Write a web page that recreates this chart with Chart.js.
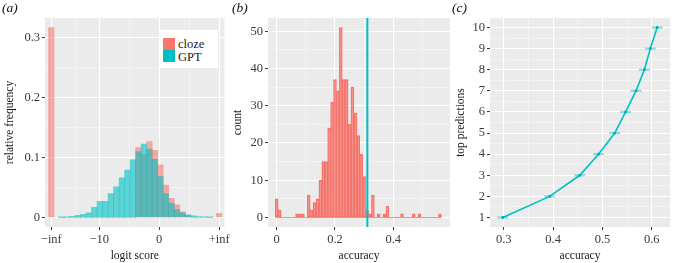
<!DOCTYPE html>
<html>
<head>
<meta charset="utf-8">
<script src="https://cdn.jsdelivr.net/npm/chart.js@4.4.0/dist/chart.umd.min.js"></script>
<style>
html,body{margin:0;padding:0;background:#ffffff;}
#wrap{position:relative;width:674px;height:263px;overflow:hidden;font-family:"Liberation Serif","Times New Roman",serif;}
canvas{position:absolute;top:0;}
.tag{position:absolute;top:0;font-style:italic;font-size:13.5px;line-height:16px;color:#111;}
#legend{position:absolute;left:159px;top:30px;width:59px;height:38px;background:#ffffff;}
.key{position:absolute;left:4px;width:12px;height:12px;}
.ltxt{position:absolute;left:19px;font-size:12.5px;line-height:12px;color:#1a1a1a;}
</style>
</head>
<body>
<div id="wrap">
  <canvas id="ca" width="232" height="263" style="left:0px"></canvas>
  <canvas id="cb" width="226" height="263" style="left:228px"></canvas>
  <canvas id="cc" width="220" height="263" style="left:454px"></canvas>
  <div class="tag" style="left:2px">(a)</div>
  <div class="tag" style="left:232px">(b)</div>
  <div class="tag" style="left:452px">(c)</div>
  <div id="legend">
    <div class="key" style="top:8px;background:#F8766D"></div>
    <div class="ltxt" style="top:8px">cloze</div>
    <div class="key" style="top:20px;background:#00BFC4"></div>
    <div class="ltxt" style="top:21px">GPT</div>
  </div>
</div>
<script>
// ===== Data =====
// (a) relative frequency of logit scores, histogram bin centres
const logitBinCenters = [-16.35,-15.43,-14.51,-13.59,-12.67,-11.75,-10.83,-9.91,-8.99,-8.07,-7.15,-6.23,-5.31,-4.39,-3.47,-2.55,-1.63,-0.71,0.21,1.13,2.05,2.97,3.89,4.81,5.73,6.65,7.57,8.49];
const gptFreq   = [0.0005,0.001,0.002,0.0035,0.005,0.0075,0.017,0.027,0.027,0.040,0.051,0.066,0.079,0.096,0.110,0.1225,0.114,0.097,0.068,0.040,0.024,0.013,0.0075,0.0045,0.0025,0.0015,0.0008,0.0003];
const clozeFreq = [0,0,0,0,0,0,0,0,0,0,0,0,0,0,0.1165,0.105,0.1265,0.112,0.088,0.054,0.032,0.021,0.0095,0.003,0,0,0,0];
const negInfPos = -18, posInfPos = 10;
const clozeNegInf = 0.317, clozePosInf = 0.007;
const logitMajor = [negInfPos, -10, 0, posInfPos];
const logitLabels = ['\u2212inf', '\u221210', '0', '+inf'];
const logitMinor = [-14, -5, 5];
const freqMajor = [0, 0.1, 0.2, 0.3];
const freqLabels = ['0', '0.1', '0.2', '0.3'];
const freqMinor = [0.05, 0.15, 0.25];

// (b) accuracy histogram (count), bin centres of width 0.01
const accBins   = [0,0.01,0.07,0.08,0.09,0.11,0.12,0.13,0.14,0.15,0.16,0.17,0.18,0.19,0.20,0.21,0.22,0.23,0.24,0.25,0.26,0.27,0.28,0.29,0.30,0.31,0.32,0.33,0.35,0.37,0.38,0.43,0.47,0.49,0.56];
const accCounts = [5,2,1,1,1,6,2,4,5,10,15,15,24,31,37,34,51,37,37,25,35,28,22,17,11,2,1,6,1,1,3,1,1,1,1];
const accBinWidth = 0.01;
const gptAccuracy = 0.311;
const accMajor = [0, 0.2, 0.4];
const accLabels = ['0', '0.2', '0.4'];
const accMinor = [0.1, 0.3, 0.5];
const countMajor = [0, 10, 20, 30, 40, 50];
const countLabels = ['0', '10', '20', '30', '40', '50'];
const countMinor = [5, 15, 25, 35, 45];

// (c) accuracy vs number of top predictions
const topN = [1,2,3,4,5,6,7,8,9,10];
const topAcc = [0.298,0.393,0.454,0.492,0.525,0.547,0.568,0.585,0.597,0.611];
const topAccErr = [0.011,0.011,0.011,0.011,0.011,0.011,0.011,0.011,0.011,0.011];
const topAccMajor = [0.3, 0.4, 0.5, 0.6];
const topAccLabels = ['0.3', '0.4', '0.5', '0.6'];
const topAccMinor = [0.35, 0.45, 0.55];
const topNMajor = [1,2,3,4,5,6,7,8,9,10];
const topNLabels = ['1','2','3','4','5','6','7','8','9','10'];
const topNMinor = [1.5,2.5,3.5,4.5,5.5,6.5,7.5,8.5,9.5];

// ===== Helpers =====
const FONT = "'Liberation Serif','Times New Roman',serif";
const RED = '#F8766D', TEAL = '#00BFC4';

function makeTicks(major, minor) {
  return axis => {
    const t = major.map(v => ({value: v, isMajor: true}))
      .concat(minor.map(v => ({value: v, isMajor: false})));
    t.sort((a, b) => a.value - b.value);
    axis.ticks = t;
  };
}
function labelFn(major, labels) {
  return value => {
    const i = major.findIndex(m => Math.abs(m - value) < 1e-9);
    return i >= 0 ? labels[i] : '';
  };
}
const isMaj = c => !!(c.tick && c.tick.isMajor);
function axis(o) {
  return {
    type: 'linear', position: o.position, min: o.min, max: o.max, offset: false,
    afterBuildTicks: makeTicks(o.major, o.minor),
    afterFit: o.afterFit,
    border: {display: false},
    grid: {
      offset: false,
      color: c => isMaj(c) ? '#FFFFFF' : 'rgba(255,255,255,0.6)',
      lineWidth: c => isMaj(c) ? 1.1 : 0.7,
      tickColor: c => isMaj(c) ? '#333333' : 'rgba(0,0,0,0)',
      tickWidth: 1, tickLength: 3, drawTicks: true
    },
    ticks: {
      autoSkip: false, maxRotation: 0, minRotation: 0, padding: o.tickPad,
      color: '#3a3a3a', font: {family: FONT, size: 12.5},
      callback: labelFn(o.major, o.labels)
    },
    title: {display: true, text: o.title, color: '#1a1a1a', font: {family: FONT, size: 11.5}, padding: o.titlePad}
  };
}
const fitY = w => a => { a.width = w; a.paddingTop = 0; a.paddingBottom = 0; };
const fitX = h => a => { a.height = h; a.paddingLeft = 0; a.paddingRight = 0; };

const panelBg = {
  id: 'panelBg',
  beforeDraw(chart) {
    const {ctx, chartArea: a} = chart;
    ctx.save();
    ctx.fillStyle = '#EBEBEB';
    ctx.fillRect(a.left, a.top, a.right - a.left, a.bottom - a.top);
    ctx.restore();
  }
};
const base = {
  responsive: false, animation: false, devicePixelRatio: 1,
  plugins: {legend: {display: false}, tooltip: {enabled: false}}
};

// ===== Panel (a) =====
const gptPts = logitBinCenters.map((x, i) => ({x, y: gptFreq[i]}));
const clozePts = [{x: negInfPos, y: clozeNegInf}]
  .concat(logitBinCenters.map((x, i) => ({x, y: clozeFreq[i]})))
  .concat([{x: posInfPos, y: clozePosInf}]);

new Chart(document.getElementById('ca'), {
  type: 'bar',
  data: {datasets: [
    {label: 'GPT', data: gptPts, backgroundColor: 'rgba(0,191,196,0.6)', borderWidth: 0, grouped: false, barPercentage: 1, categoryPercentage: 1},
    {label: 'cloze', data: clozePts, backgroundColor: 'rgba(248,118,109,0.6)', borderWidth: 0, grouped: false, barPercentage: 1, categoryPercentage: 1}
  ]},
  options: Object.assign({}, base, {
    layout: {padding: {left: 0, right: 7.5, top: 18, bottom: 0}},
    scales: {
      x: axis({position: 'bottom', min: -19.05, max: 10.9, major: logitMajor, minor: logitMinor, labels: logitLabels, title: 'logit score', tickPad: 2, titlePad: {top: 0, bottom: 0}, afterFit: fitX(36)}),
      y: axis({position: 'left', min: -0.016, max: 0.333, major: freqMajor, minor: freqMinor, labels: freqLabels, title: 'relative frequency', tickPad: 2, titlePad: {top: 3.4, bottom: 0}, afterFit: fitY(45)})
    }
  }),
  plugins: [panelBg]
});

// ===== Panel (b) =====
const accLines = {
  id: 'accLines',
  afterDatasetsDraw(chart) {
    const {ctx, chartArea: a, scales: {x, y}} = chart;
    ctx.save();
    // zero-count bins drawn as outline along the baseline
    ctx.strokeStyle = RED; ctx.lineWidth = 0.8;
    const y0 = y.getPixelForValue(0);
    ctx.beginPath();
    ctx.moveTo(x.getPixelForValue(accBins[0] - accBinWidth / 2), y0);
    ctx.lineTo(x.getPixelForValue(accBins[accBins.length - 1] + accBinWidth / 2), y0);
    ctx.stroke();
    // GPT accuracy reference line
    const gx = x.getPixelForValue(gptAccuracy);
    ctx.strokeStyle = TEAL; ctx.lineWidth = 2;
    ctx.beginPath(); ctx.moveTo(gx, a.top); ctx.lineTo(gx, a.bottom); ctx.stroke();
    ctx.restore();
  }
};
new Chart(document.getElementById('cb'), {
  type: 'bar',
  data: {datasets: [
    {label: 'cloze', data: accBins.map((x, i) => ({x, y: accCounts[i]})), backgroundColor: 'rgba(248,118,109,0.6)', borderColor: 'rgba(244,110,100,0.95)', borderWidth: 0.8, borderSkipped: false, grouped: false, barPercentage: 1, categoryPercentage: 1}
  ]},
  options: Object.assign({}, base, {
    layout: {padding: {left: 0, right: 4, top: 18, bottom: 0}},
    scales: {
      x: axis({position: 'bottom', min: -0.0298, max: 0.5945, major: accMajor, minor: accMinor, labels: accLabels, title: 'accuracy', tickPad: 2, titlePad: {top: 0, bottom: 0}, afterFit: fitX(36)}),
      y: axis({position: 'left', min: -2.55, max: 53.55, major: countMajor, minor: countMinor, labels: countLabels, title: 'count', tickPad: 2, titlePad: {top: 3.1, bottom: 0}, afterFit: fitY(40)})
    }
  }),
  plugins: [panelBg, accLines]
});

// ===== Panel (c) =====
const errBars = {
  id: 'errBars',
  beforeDatasetsDraw(chart) {
    const {ctx, scales: {x, y}} = chart;
    ctx.save();
    ctx.strokeStyle = 'rgba(0,191,196,0.45)'; ctx.lineWidth = 2.2;
    topN.forEach((n, i) => {
      const py = y.getPixelForValue(n);
      ctx.beginPath();
      ctx.moveTo(x.getPixelForValue(topAcc[i] - topAccErr[i]), py);
      ctx.lineTo(x.getPixelForValue(topAcc[i] + topAccErr[i]), py);
      ctx.stroke();
    });
    ctx.restore();
  }
};
new Chart(document.getElementById('cc'), {
  type: 'scatter',
  data: {datasets: [
    {label: 'GPT', data: topN.map((n, i) => ({x: topAcc[i], y: n})), showLine: true, borderColor: TEAL, borderWidth: 1.6, pointRadius: 1.4, pointBackgroundColor: '#00AEB3', pointBorderWidth: 0, tension: 0}
  ]},
  options: Object.assign({}, base, {
    layout: {padding: {left: 0, right: 1.3, top: 18, bottom: 0}},
    scales: {
      x: axis({position: 'bottom', min: 0.272, max: 0.637, major: topAccMajor, minor: topAccMinor, labels: topAccLabels, title: 'accuracy', tickPad: 2, titlePad: {top: 0, bottom: 0}, afterFit: fitX(36)}),
      y: axis({position: 'left', min: 0.55, max: 10.45, major: topNMajor, minor: topNMinor, labels: topNLabels, title: 'top predictions', tickPad: 2, titlePad: {top: 0, bottom: 0}, afterFit: fitY(36)})
    }
  }),
  plugins: [panelBg, errBars]
});
</script>
</body>
</html>
